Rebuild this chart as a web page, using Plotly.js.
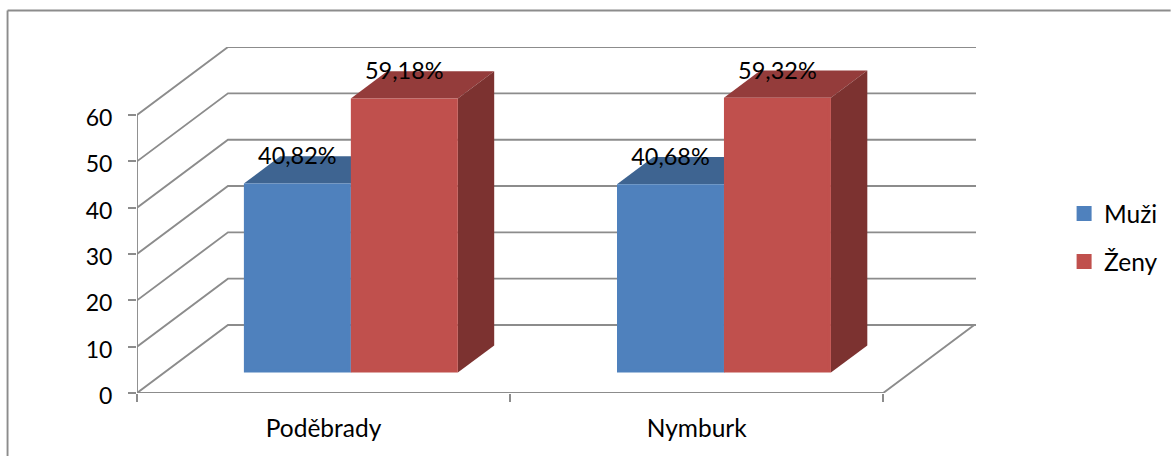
<!DOCTYPE html>
<html><head><meta charset="utf-8">
<script src="https://cdn.plot.ly/plotly-3.0.1.min.js"></script>
<style>html,body{margin:0;padding:0;background:#fff}#c{width:1171px;height:456px}</style>
</head><body><div id="c"></div>
<script>
// Data
const categories = ['Poděbrady', 'Nymburk'];
const seriesNames = ['Muži', 'Ženy'];
const muzi = [40.82, 40.68];
const zeny = [59.18, 59.32];
const yTicks = [0, 10, 20, 30, 40, 50, 60];

// Pixel geometry of the oblique projection
const W = 1171, H = 456;
const L = 137, R = 976.3, T = 47, B = 393;
const pxPerCat = 373.25, pxPerUnit = 4.633;
const xMax = (R - L) / pxPerCat, yMax = (B - T) / pxPerUnit;
const depthX = 91 / pxPerCat, depthY = 68 / pxPerUnit;
const frontF = 0.3, barDepth = 0.4;
const barW = 107 / pxPerCat;
const edge = 3;
const fx = depthX * frontF, fy = depthY * frontF;
const bx = depthX * barDepth, by = depthY * barDepth;

const GRID = '#8c8c8c';
const colors = {
  muzi: {front: '#4f81bd', top: '#3e6491', side: '#2f4d71'},
  zeny: {front: '#c0504d', top: '#943c3b', side: '#7c3230'}
};

function poly(xs, ys, color) {
  return {type: 'scatter', mode: 'lines', x: xs, y: ys, fill: 'toself', fillcolor: color,
    line: {width: 0, color: color}, showlegend: false, hoverinfo: 'skip', cliponaxis: false};
}
function line(xs, ys) {
  return {type: 'scatter', mode: 'lines', x: xs, y: ys, line: {color: GRID, width: 1.9},
    showlegend: false, hoverinfo: 'skip', cliponaxis: false};
}

const traces = [];
// Walls and gridlines
yTicks.forEach(v => traces.push(line([0, depthX, xMax], [v, v + depthY, v + depthY])));
traces.push(line([0, 0], [0, yTicks[yTicks.length - 1]]));
traces.push(line([0, categories.length, categories.length + depthX], [0, 0, depthY]));

// Top and side faces, all anchored to the values
function faces(values, shift, c) {
  values.forEach((v, i) => {
    const x0 = i + 0.5 + fx + shift * barW, x1 = x0 + barW, y0 = fy, y1 = fy + v;
    traces.push(poly([x0, x1, x1 + bx, x0 + bx, x0], [y1, y1, y1 + by, y1 + by, y1], c.top));
    traces.push(poly([x1, x1 + bx, x1 + bx, x1, x1], [y0, y0 + by, y1 + by, y1, y0], c.side));
  });
}
faces(muzi, -1, colors.muzi);
faces(zeny, 0, colors.zeny);

// Front faces on the overlaid subplot, so they cover the walls
const eX = edge / pxPerCat, eY = edge / pxPerUnit;
function front(values, shift, name, c, grp) {
  return {type: 'bar', name: name, legendgroup: grp, xaxis: 'x2', yaxis: 'y2',
    x: values.map((v, i) => i + 0.5 + fx + (shift + 0.5) * barW),
    y: values.map(v => v - eY),
    base: values.map(() => fy + eY / 2),
    width: values.map(() => barW - eX),
    marker: {color: c.front, line: {color: c.front, width: edge}},
    hoverinfo: 'skip'};
}
traces.push(front(muzi, -1, seriesNames[0], colors.muzi, 'a'));
traces.push(front(zeny, 0, seriesNames[1], colors.zeny, 'b'));

// Data labels
function labels(values, shift) {
  return {type: 'scatter', mode: 'text', xaxis: 'x2', yaxis: 'y2', showlegend: false,
    x: values.map((v, i) => i + 0.5 + fx + (shift + 0.5) * barW),
    y: values.map(v => fy + v + by * 0.72 + 1.2),
    text: values.map(v => v.toFixed(2).replace('.', ',') + '%'),
    textposition: 'middle center', textfont: {family: 'Lato, sans-serif', size: 23.5, color: '#000'},
    hoverinfo: 'skip', cliponaxis: false};
}
traces.push(labels(muzi, -1));
traces.push(labels(zeny, 0));

const layout = {
  width: W, height: H, paper_bgcolor: '#fff', plot_bgcolor: 'rgba(0,0,0,0)',
  margin: {l: L, r: W - R, t: T, b: H - B, pad: 0, autoexpand: false},
  barmode: 'overlay',
  font: {family: 'Lato, sans-serif', size: 23, color: '#000'},
  xaxis: {range: [0, xMax], tickmode: 'array', tickvals: categories.map((c, i) => i + 0.5), ticktext: categories,
    showgrid: false, zeroline: false, showline: false, ticks: '', ticklabelstandoff: 18,
    tickfont: {family: 'Lato, sans-serif', size: 24.5}},
  yaxis: {range: [0, yMax], tickmode: 'array', tickvals: yTicks, showgrid: false, zeroline: false, showline: false,
    ticks: 'outside', ticklen: 8, tickwidth: 1.9, tickcolor: GRID, ticklabelstandoff: 11, ticklabelshift: 3,
    tickfont: {family: 'Lato, sans-serif', size: 23}},
  xaxis2: {overlaying: 'x', anchor: 'y2', range: [0, xMax], tickmode: 'array', tickvals: [0, 1, 2], showticklabels: false,
    showgrid: false, zeroline: false, showline: false, ticks: 'outside', ticklen: 8, tickwidth: 1.9, tickcolor: GRID},
  yaxis2: {overlaying: 'y', anchor: 'x2', range: [0, yMax], visible: false},
  legend: {xref: 'paper', yref: 'paper', x: 1.105, y: 0.449, xanchor: 'left', yanchor: 'middle',
    itemwidth: 30, tracegroupgap: 13, font: {family: 'Lato, sans-serif', size: 24.5}, bgcolor: 'rgba(0,0,0,0)'},
  shapes: [
    {type: 'line', xref: 'paper', yref: 'paper', x0: (7.5 - L) / (R - L), x1: (W - L) / (R - L),
      y0: (B - 10.5) / (B - T), y1: (B - 10.5) / (B - T), line: {color: GRID, width: 1.9}},
    {type: 'line', xref: 'paper', yref: 'paper', x0: (7.5 - L) / (R - L), x1: (7.5 - L) / (R - L),
      y0: (B - 10.5) / (B - T), y1: (B - H) / (B - T), line: {color: GRID, width: 1.9}}
  ]
};
Plotly.newPlot('c', traces, layout, {displayModeBar: false, staticPlot: true});
</script></body></html>
